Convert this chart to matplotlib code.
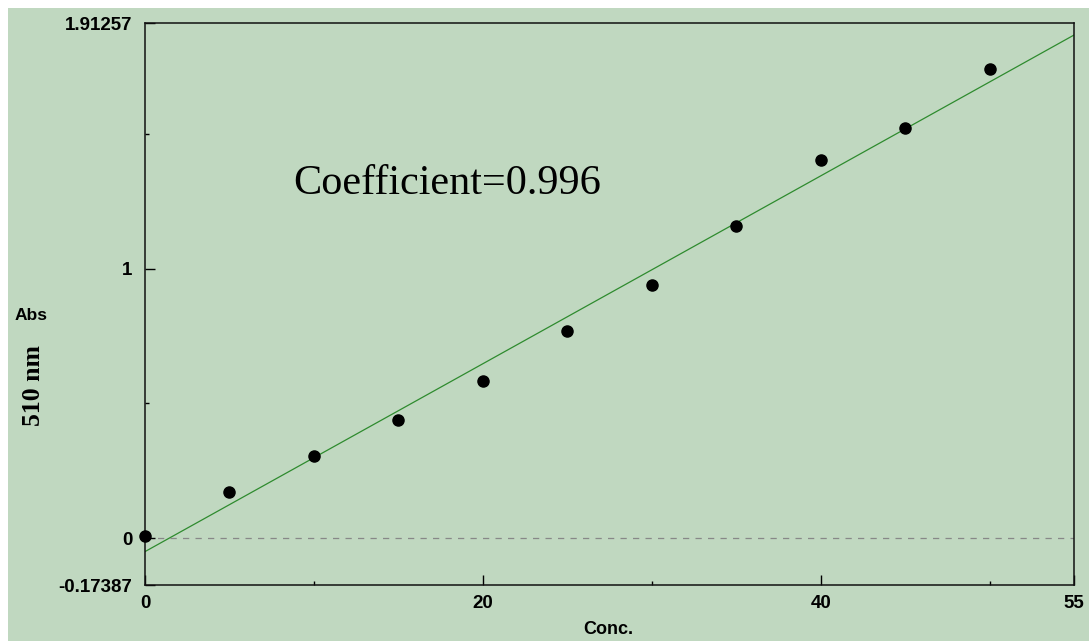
import numpy as np
import matplotlib
matplotlib.use("Agg")
import matplotlib.pyplot as plt
from matplotlib.patches import Rectangle

# standard curve readings at 510 nm
conc = [0, 5, 10, 15, 20, 25, 30, 35, 40, 45, 50]
absorb = [0.007, 0.170, 0.304, 0.437, 0.585, 0.770, 0.941, 1.159, 1.404, 1.522, 1.741]

y_min, y_max = -0.17387, 1.91257
x_min, x_max = 0, 55
ytick_vals = [y_min, 0, 1, y_max]
ytick_labels = ["-0.17387", "0", "1", "1.91257"]
xtick_vals = [0, 20, 40, 55]
xtick_labels = ["0", "20", "40", "55"]
coef_text = "Coefficient=0.996"

bg = "#c0d8c0"
W, H = 1089, 641

fig = plt.figure(figsize=(W / 100, H / 100), dpi=100, facecolor="white")
fig.patches.append(Rectangle((8 / W, 0), 1 - 8 / W, 1 - 8 / H,
                             transform=fig.transFigure, facecolor=bg,
                             edgecolor="none", zorder=-10))

ax = fig.add_axes([145 / W, 56 / H, 929 / W, 562 / H])
ax.set_zorder(1)
ax.set_facecolor(bg)
ax.set_xlim(x_min, x_max)
ax.set_ylim(y_min, y_max)

# least squares fit
slope, inter = np.polyfit(conc, absorb, 1)
xs = np.array([x_min, x_max])
ax.plot(xs, slope * xs + inter, color="#2e8b2e", lw=0.9, zorder=2)
ax.plot(xs, [0, 0], color="#888888", lw=0.9, ls=(0, (5, 5)), zorder=1)
ax.plot(conc, absorb, "o", color="black", ms=8, zorder=3, clip_on=False)

for s in ax.spines.values():
    s.set_linewidth(1.1)
    s.set_color("#111111")

tick_font = dict(family="Liberation Sans", weight="bold", size=13.5)
ax.set_yticks(ytick_vals)
ax.set_yticklabels(ytick_labels, **tick_font)
ax.set_xticks(xtick_vals)
ax.set_xticklabels(xtick_labels, **tick_font)
ax.set_yticks([0.5, 1.5], minor=True)
ax.set_xticks([10, 30, 50], minor=True)
ax.tick_params(which="major", direction="in", length=7, width=1, pad=9)
ax.tick_params(axis="x", which="major", pad=7)
ax.tick_params(which="minor", direction="in", length=3, width=1)

ax.text(8.76, 1.278, coef_text, family="Liberation Serif", size=30.4,
        ha="left", va="baseline")

fig.text(31 / W, 1 - 315 / H, "Abs", family="Liberation Sans", weight="bold",
         size=12.5, ha="center", va="center")
fig.text(33 / W, 1 - 386 / H, "510 nm", family="Liberation Serif", weight="bold",
         size=18.5, rotation=90, ha="center", va="center")
fig.text(608 / W, 1 - 630 / H, "Conc.", family="Liberation Sans", weight="bold",
         size=13, ha="center", va="center")

fig.savefig("out.png", dpi=100, facecolor="white")
